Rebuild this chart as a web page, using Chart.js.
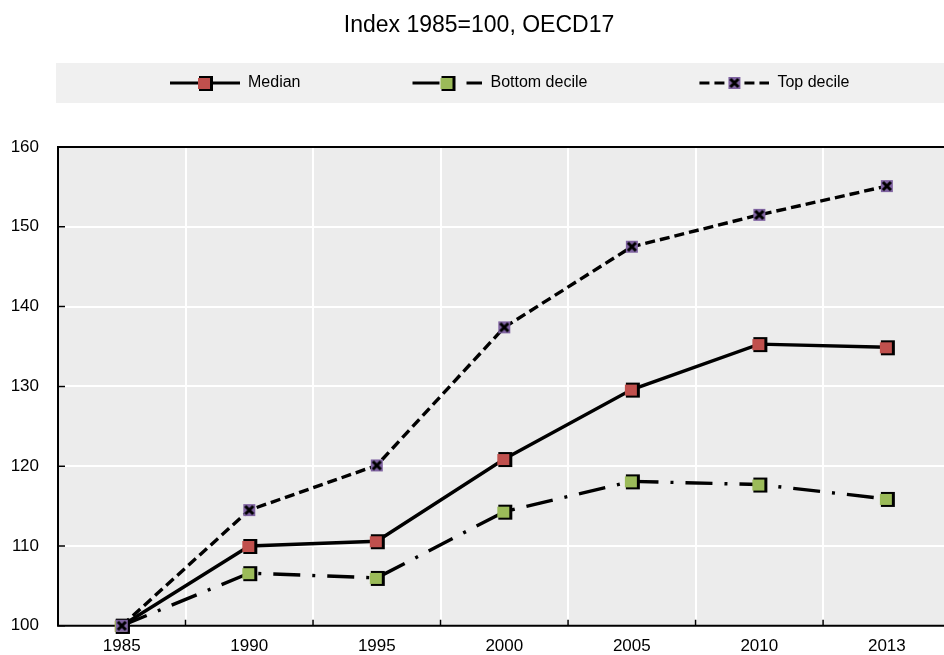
<!DOCTYPE html>
<html>
<head>
<meta charset="utf-8">
<script src="https://cdn.jsdelivr.net/npm/chart.js@4"></script>
<style>
  html, body { margin: 0; padding: 0; background: #fff; overflow: hidden; }
  #wrap { width: 958px; height: 655px; }
</style>
</head>
<body>
<div id="wrap"><canvas id="c" width="958" height="655"></canvas></div>
<script>
// ---- data ----
const years = ['1985', '1990', '1995', '2000', '2005', '2010', '2013'];
const median = [100, 110.0, 110.6, 120.9, 129.6, 135.3, 134.9];
const bottomDecile = [100, 106.6, 106.0, 114.3, 118.1, 117.7, 115.9];
const topDecile = [100, 114.5, 120.1, 137.4, 147.5, 151.5, 155.1];
const yTickValues = [100, 110, 120, 130, 140, 150, 160];
const titleText = 'Index 1985=100, OECD17';
const seriesNames = ['Median', 'Bottom decile', 'Top decile'];

// ---- styles ----
const RED = '#c0504d', GREEN = '#9bbb59', PURPLE = '#8064a2';
const DASH_BOTTOM = [27, 12, 3, 12];
const DASH_TOP = [10, 5];
const FONT = "'Liberation Sans', Arial, sans-serif";

function makeMarker(color, cross) {
  const c = document.createElement('canvas');
  c.width = 18; c.height = 18;
  const g = c.getContext('2d');
  if (cross) {
    g.fillStyle = color;
    g.fillRect(3, 3, 12, 12);
    g.strokeStyle = '#000';
    g.lineWidth = 3;
    g.beginPath();
    g.moveTo(5, 5); g.lineTo(13, 13);
    g.moveTo(13, 5); g.lineTo(5, 13);
    g.stroke();
  } else {
    g.fillStyle = '#000';
    g.fillRect(3, 2, 14, 15);
    g.fillStyle = color;
    g.fillRect(2, 4, 12, 11);
  }
  return c;
}
const mkMedian = makeMarker(RED, false);
const mkBottom = makeMarker(GREEN, false);
const mkTop = makeMarker(PURPLE, true);

const LEG_W = 170, SYM_W = 70;
function makeLegendImg(marker, dash) {
  const c = document.createElement('canvas');
  c.width = LEG_W; c.height = 18;
  const g = c.getContext('2d');
  const x1 = LEG_W, x0 = x1 - SYM_W;
  g.strokeStyle = '#000';
  g.lineWidth = 3.2;
  g.setLineDash(dash);
  g.beginPath();
  g.moveTo(x0, 9); g.lineTo(x1, 9);
  g.stroke();
  g.drawImage(marker, x0 + SYM_W / 2 - 9, 0);
  return c;
}
const legMedian = makeLegendImg(mkMedian, []);
const legBottom = makeLegendImg(mkBottom, DASH_BOTTOM);
const legTop = makeLegendImg(mkTop, DASH_TOP);

const bgPlugin = {
  id: 'bg',
  beforeInit(chart) {
    const lg = chart.legend;
    if (lg) {
      const fit = lg.fit;
      lg.fit = function () { fit.call(this); this.height += 46; };
    }
  },
  beforeDraw(chart) {
    const { ctx, chartArea: a, legend } = chart;
    ctx.save();
    ctx.fillStyle = '#f0f0f0';
    ctx.fillRect(legend.left - 2, legend.top, chart.width, 40);
    ctx.fillStyle = '#ececec';
    ctx.fillRect(a.left, a.top, a.right - a.left, a.bottom - a.top);
    ctx.restore();
  },
  beforeDatasetsDraw(chart) {
    const { ctx, chartArea: a, scales } = chart;
    ctx.save();
    ctx.strokeStyle = '#000';
    ctx.lineWidth = 2;
    ctx.beginPath();
    ctx.moveTo(a.right, a.top); ctx.lineTo(a.left, a.top);
    ctx.lineTo(a.left, a.bottom); ctx.lineTo(a.right, a.bottom);
    ctx.stroke();
    ctx.lineWidth = 1.5;
    ctx.beginPath();
    yTickValues.forEach(v => {
      const y = scales.y.getPixelForValue(v);
      ctx.moveTo(a.left, y); ctx.lineTo(a.left + 7, y);
    });
    for (let i = 0; i < years.length - 1; i++) {
      const x = (scales.x.getPixelForValue(i) + scales.x.getPixelForValue(i + 1)) / 2;
      ctx.moveTo(x, a.bottom); ctx.lineTo(x, a.bottom - 6);
    }
    ctx.stroke();
    ctx.restore();
  }
};

Chart.defaults.font.family = FONT;
Chart.defaults.font.size = 17;
Chart.defaults.color = '#000';

new Chart(document.getElementById('c'), {
  type: 'line',
  data: {
    labels: years,
    datasets: [
      { label: seriesNames[0], data: median, borderColor: '#000', borderWidth: 3.4,
        pointStyle: mkMedian, legendImg: legMedian, order: 2, clip: false, tension: 0 },
      { label: seriesNames[1], data: bottomDecile, borderColor: '#000', borderWidth: 3.4,
        borderDash: DASH_BOTTOM, pointStyle: mkBottom, legendImg: legBottom, order: 1, clip: false, tension: 0 },
      { label: seriesNames[2], data: topDecile, borderColor: '#000', borderWidth: 3.4,
        borderDash: DASH_TOP, pointStyle: mkTop, legendImg: legTop, order: 0, clip: false, tension: 0 }
    ]
  },
  options: {
    responsive: false,
    devicePixelRatio: 1,
    animation: false,
    events: [],
    layout: { padding: 0 },
    plugins: {
      title: {
        display: true, text: titleText, color: '#000',
        font: { size: 23, weight: 'normal', family: FONT },
        padding: { top: 12, bottom: 23.4 }
      },
      legend: {
        display: true, position: 'top', align: 'start', fullSize: false,
        labels: {
          usePointStyle: true, pointStyleWidth: LEG_W, padding: 12,
          font: { size: 16, family: FONT }, color: '#000',
          generateLabels(chart) {
            return chart.data.datasets.map((ds, i) => ({
              text: ds.label, pointStyle: ds.legendImg, datasetIndex: i,
              fillStyle: 'transparent', strokeStyle: 'transparent', lineWidth: 0, hidden: false
            }));
          }
        }
      },
      tooltip: { enabled: false }
    },
    scales: {
      x: {
        type: 'category', offset: true,
        grid: { offset: true, color: '#ffffff', lineWidth: 2, drawTicks: false },
        border: { display: false },
        ticks: { padding: 10, font: { size: 17, family: FONT }, color: '#000', maxRotation: 0, autoSkip: false },
        afterFit(s) { s.height = 27; }
      },
      y: {
        min: yTickValues[0], max: yTickValues[yTickValues.length - 1],
        grid: { color: '#ffffff', lineWidth: 2, drawTicks: false },
        border: { display: false },
        ticks: { padding: 19, font: { size: 17, family: FONT }, color: '#000' },
        afterBuildTicks(s) { s.ticks = yTickValues.map(v => ({ value: v })); },
        afterFit(s) { s.width = 58; }
      }
    }
  },
  plugins: [bgPlugin]
});
</script>
</body>
</html>
